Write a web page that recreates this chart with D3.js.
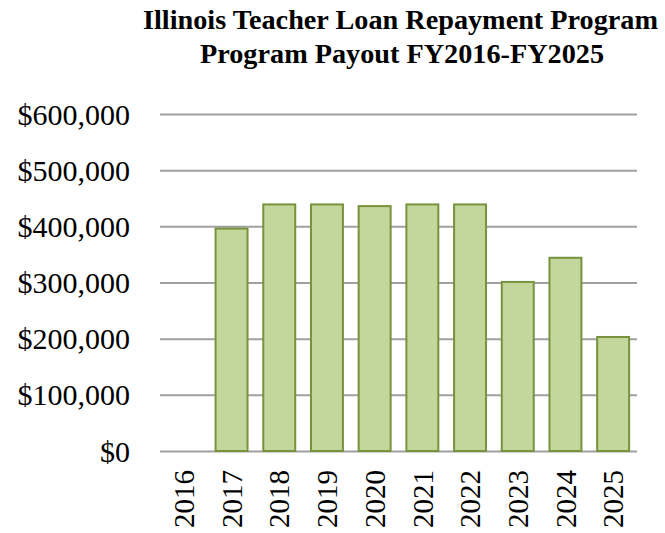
<!DOCTYPE html>
<html>
  <head>
    <script src="https://d3js.org/d3.v7.min.js"></script>
    <style>
      body { margin: 0; background: #fff; }
      svg text { font-family: "Liberation Serif", "Times New Roman", serif; fill: #000; }
    </style>
  </head>
  <body>
    <svg id="chart" width="665" height="533"></svg>
    <script>
      // fiscal years and payouts
      const years = ["2016", "2017", "2018", "2019", "2020", "2021", "2022", "2023", "2024", "2025"];
      const payouts = [0, 396000, 439000, 439000, 436000, 439000, 439000, 301000, 344000, 203000];
      const yTicks = [0, 100000, 200000, 300000, 400000, 500000, 600000];
      const titleLines = ["Illinois Teacher Loan Repayment Program", "Program Payout FY2016-FY2025"];

      const data = years.map((y, i) => ({ year: y, value: payouts[i] }));

      const svg = d3.select("#chart");
      const margin = { top: 114, right: 28, bottom: 82, left: 160 };
      const width = +svg.attr("width") - margin.left - margin.right;
      const height = +svg.attr("height") - margin.top - margin.bottom;

      // title, two lines
      const titleWidths = [515, 404];
      const titleX = [400.5, 402];
      svg.selectAll("text.title")
        .data(titleLines)
        .enter()
        .append("text")
        .attr("class", "title")
        .attr("x", (d, i) => titleX[i])
        .attr("y", (d, i) => 29 + i * 34)
        .attr("text-anchor", "middle")
        .attr("textLength", (d, i) => titleWidths[i])
        .attr("lengthAdjust", "spacingAndGlyphs")
        .style("font-size", "27px")
        .style("font-weight", "bold")
        .text(d => d);

      const g = svg.append("g")
        .attr("transform", "translate(" + margin.left + "," + margin.top + ")");

      const x = d3.scaleBand()
        .domain(years)
        .range([0, width])
        .paddingInner(0.33)
        .paddingOuter(0.165);

      const y = d3.scaleLinear()
        .domain([0, 600000])
        .range([height, 0]);

      // gridlines
      g.append("g")
        .selectAll("line")
        .data(yTicks)
        .enter()
        .append("line")
        .attr("x1", 0)
        .attr("x2", width)
        .attr("y1", d => y(d) + 0.5)
        .attr("y2", d => y(d) + 0.5)
        .attr("stroke", "#a0a0a0")
        .attr("stroke-width", 2);

      // y labels
      const fmt = d => "$" + d3.format(",")(d);
      g.append("g")
        .selectAll("text")
        .data(yTicks)
        .enter()
        .append("text")
        .attr("x", -30)
        .attr("y", d => y(d))
        .attr("dy", "0.35em")
        .attr("text-anchor", "end")
        .style("font-size", "30px")
        .text(fmt);

      // bars
      g.selectAll("rect.bar")
        .data(data.filter(d => d.value > 0))
        .enter()
        .append("rect")
        .attr("class", "bar")
        .attr("x", d => x(d.year))
        .attr("y", d => y(d.value))
        .attr("width", x.bandwidth())
        .attr("height", d => height - y(d.value))
        .attr("fill", "#c3d69b")
        .attr("stroke", "#77933c")
        .attr("stroke-width", 2);

      // x labels, rotated
      g.append("g")
        .selectAll("text")
        .data(years)
        .enter()
        .append("text")
        .attr("transform", d => "translate(" + (x(d) + x.bandwidth() / 2) + "," + (height + 19) + ") rotate(-90)")
        .attr("dy", "0.35em")
        .attr("text-anchor", "end")
        .style("font-size", "29px")
        .text(d => d);
    </script>
  </body>
</html>
